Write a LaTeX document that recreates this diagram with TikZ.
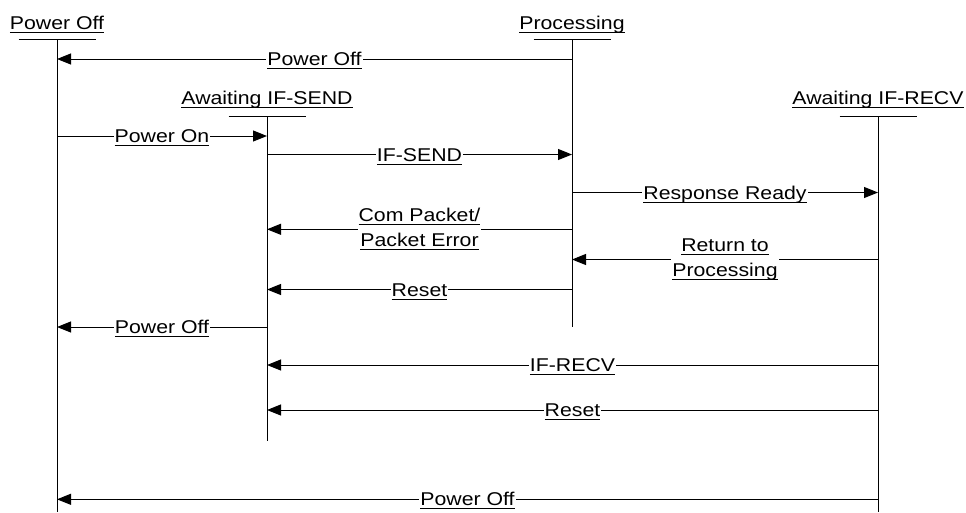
\documentclass[tikz,border=0pt]{standalone}
\usepackage{fontspec}
\setmainfont[FakeStretch=1.15]{Liberation Sans}
\usetikzlibrary{arrows.meta,positioning}
\newsavebox\ulbox
\newcommand\ulbl[1]{\sbox\ulbox{#1}\rlap{\rule[-3.6pt]{\wd\ulbox}{1.1pt}}\usebox\ulbox}
\tikzset
{
    lifehead/.style = {anchor=base, inner sep=0pt, font=\fontsize{18.5}{25}\selectfont},
    msglabel/.style = {fill=white, inner xsep=1pt, inner ysep=0pt, text height=13pt, text depth=0pt, font=\fontsize{18.5}{25}\selectfont},
    msgtwo/.style   = {fill=white, inner xsep=1pt, inner ysep=0pt, align=center, font=\fontsize{18.5}{25}\selectfont},
    msgarrow/.style = {draw=black, line width=1pt, -{Triangle[length=14pt,width=11pt]}}
}
\begin{document}
\begin{tikzpicture}
		[x=1pt, y=-1pt, line width=1pt]
		\useasboundingbox (0,0) rectangle (966,512);
		% lifelines
		\node[lifehead] (offhead) at (57,29) {\ulbl{Power Off}};
		\node[lifehead] (prochead) at (572,29) {\ulbl{Processing}};
		\node[lifehead] (sendhead) at (267,104) {\ulbl{Awaiting IF-SEND}};
		\node[lifehead] (recvhead) at (878,104) {\ulbl{Awaiting IF-RECV}};
		\coordinate (off) at (57,39);
		\coordinate (proc) at (572,39);
		\coordinate (send) at (267,116);
		\coordinate (recv) at (878,116);
		\coordinate (offend) at (57,512);
		\coordinate (procend) at (572,327);
		\coordinate (sendend) at (267,441);
		\coordinate (recvend) at (878,512);
		\draw ([xshift=-38.5pt]off) -- ([xshift=38.5pt]off);
		\draw ([xshift=-38.5pt]proc) -- ([xshift=38.5pt]proc);
		\draw ([xshift=-38.5pt]send) -- ([xshift=38.5pt]send);
		\draw ([xshift=-38.5pt]recv) -- ([xshift=38.5pt]recv);
		\draw (off) -- (offend);
		\draw (proc) -- (procend);
		\draw (send) -- (sendend);
		\draw (recv) -- (recvend);
		% message rows
		\coordinate (r1) at (0,59);
		\coordinate (r2) at (0,136);
		\coordinate (r3) at (0,154.5);
		\coordinate (r4) at (0,192.5);
		\coordinate (r5) at (0,229.3);
		\coordinate (r6) at (0,259.5);
		\coordinate (r7) at (0,289.5);
		\coordinate (r8) at (0,327);
		\coordinate (r9) at (0,365);
		\coordinate (r10) at (0,410);
		\coordinate (r11) at (0,499.3);
		% messages
		\draw[msgarrow] (proc |- r1) -- node[msglabel] (m1) {\ulbl{Power Off}} (off |- r1);
		\draw[msgarrow] (off |- r2) -- node[msglabel] (m2) {\ulbl{Power On}} (send |- r2);
		\draw[msgarrow] (send |- r3) -- node[msglabel] (m3) {\ulbl{IF-SEND}} (proc |- r3);
		\draw[msgarrow] (proc |- r4) -- node[msglabel] (m4) {\ulbl{Response Ready}} (recv |- r4);
		\draw[msgarrow] (proc |- r5) -- node[msgtwo] (m5) {\ulbl{Com Packet/}\\\ulbl{Packet Error}} (send |- r5);
		\draw[msgarrow] (recv |- r6) -- node[msgtwo] (m6) {\ulbl{Return to}\\\ulbl{Processing}} (proc |- r6);
		\draw[msgarrow] (proc |- r7) -- node[msglabel] (m7) {\ulbl{Reset}} (send |- r7);
		\draw[msgarrow] (send |- r8) -- node[msglabel] (m8) {\ulbl{Power Off}} (off |- r8);
		\draw[msgarrow] (recv |- r9) -- node[msglabel] (m9) {\ulbl{IF-RECV}} (send |- r9);
		\draw[msgarrow] (recv |- r10) -- node[msglabel] (m10) {\ulbl{Reset}} (send |- r10);
		\draw[msgarrow] (recv |- r11) -- node[msglabel] (m11) {\ulbl{Power Off}} (off |- r11);
\end{tikzpicture}
\end{document}
